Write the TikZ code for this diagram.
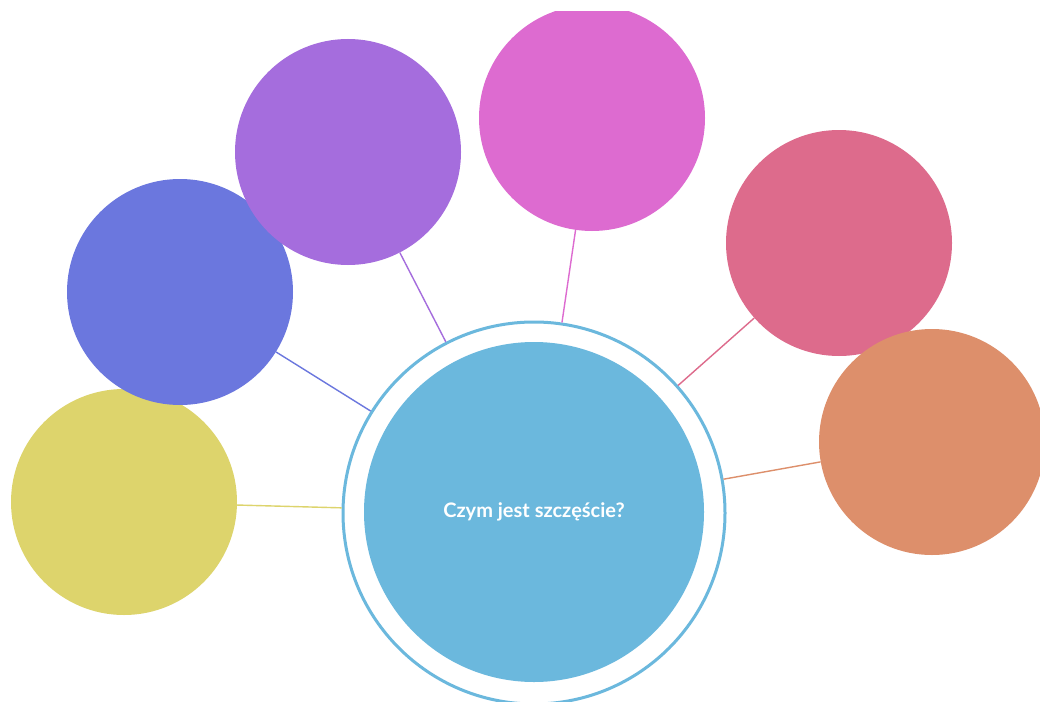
\documentclass[tikz,border=0pt]{standalone}
\usepackage{fontspec}
\setmainfont{Lato}
\definecolor{cmain}{HTML}{6BB8DD}
\definecolor{cyel}{HTML}{DDD46C}
\definecolor{cblue}{HTML}{6B77DE}
\definecolor{cpurp}{HTML}{A56DDD}
\definecolor{cmag}{HTML}{DD6BD0}
\definecolor{cpink}{HTML}{DD6B8C}
\definecolor{corng}{HTML}{DD8F6B}
\tikzset{
  bubble/.style={circle, fill=#1, draw=none, minimum size=226pt, inner sep=0pt},
  link/.style={draw=#1, line width=1.4pt},
}
\begin{document}
\begin{tikzpicture}[x=1pt,y=-1pt]
\useasboundingbox[fill=white] (0,0) rectangle (1040,701);
\begin{scope}
\clip (0,12) rectangle (1040,701);
\node[circle, draw=cmain, line width=3pt, minimum size=382pt, inner sep=0pt] (ring) at (534,513) {};
\node[circle, fill=cmain, minimum size=340pt, inner sep=0pt, text=white, font=\fontsize{20}{24}\selectfont\bfseries] (core) at (534,512) {Czym jest szczęście?};
\node[bubble=cyel] (y) at (124,502) {};
\node[bubble=cblue] (b) at (180,292) {};
\node[bubble=cpurp] (p) at (348,152) {};
\node[bubble=cmag] (m) at (592,118) {};
\node[bubble=cpink] (k) at (839,243) {};
\node[bubble=corng] (o) at (932,442) {};
\draw[link=cyel] (ring) -- (y);
\draw[link=cblue] (ring) -- (b);
\draw[link=cpurp] (ring) -- (p);
\draw[link=cmag] (ring) -- (m);
\draw[link=cpink] (ring) -- (k);
\draw[link=corng] (ring) -- (o);
\end{scope}
\end{tikzpicture}
\end{document}
